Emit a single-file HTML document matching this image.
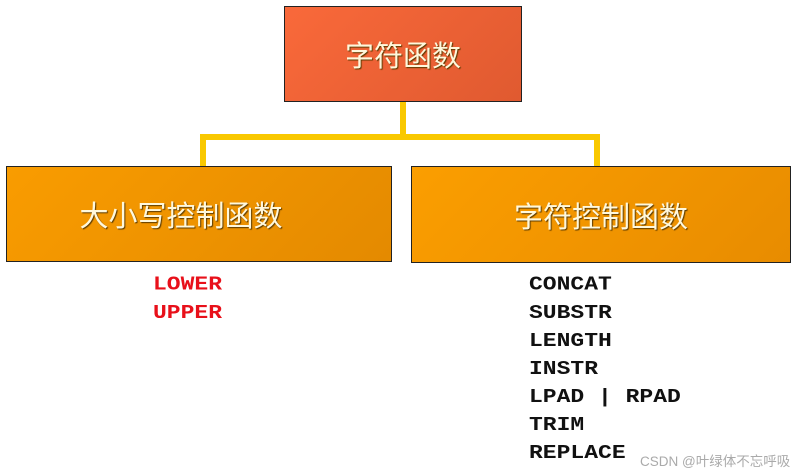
<!DOCTYPE html>
<html><head><meta charset="utf-8"><style>
body{margin:0;width:800px;height:470px;background:#fff;position:relative;overflow:hidden;font-family:"Liberation Sans","Noto Sans CJK SC",sans-serif}
.box{position:absolute;border:1.5px solid #222;box-sizing:border-box;display:flex;align-items:center;justify-content:center;color:#fff8dc;font-size:29px;text-shadow:1px 1px 1px #5a3a00}
.l{position:absolute;background:#f9c800}
.t{position:absolute;font-family:"Liberation Mono",monospace;font-weight:bold;font-size:23px;line-height:33px;transform:scaleY(0.85);transform-origin:top left}
</style></head><body>
<div class="l" style="left:400px;top:100px;width:6px;height:40px"></div>
<div class="l" style="left:200px;top:134px;width:400px;height:6px"></div>
<div class="l" style="left:200px;top:134px;width:6px;height:34px"></div>
<div class="l" style="left:594px;top:134px;width:6px;height:34px"></div>
<div class="box" style="left:284px;top:6px;width:238px;height:96px;background:linear-gradient(135deg,#f9693a,#e05a30)">字符函数</div>
<div class="box" style="left:6px;top:166px;width:386px;height:96px;background:linear-gradient(135deg,#f99c00,#e48a00);padding-right:36px">大小写控制函数</div>
<div class="box" style="left:411px;top:166px;width:380px;height:97px;background:linear-gradient(135deg,#fb9e00,#e88c00)">字符控制函数</div>
<div class="t" style="left:153px;top:271px;color:#e8101a">LOWER<br>UPPER</div>
<div class="t" style="left:529px;top:271px;color:#111;white-space:pre">CONCAT
SUBSTR
LENGTH
INSTR
LPAD | RPAD
TRIM
REPLACE</div>
<div style="position:absolute;left:640px;top:450px;font-size:13.5px;color:#aaa">CSDN @叶绿体不忘呼吸</div>
</body></html>
